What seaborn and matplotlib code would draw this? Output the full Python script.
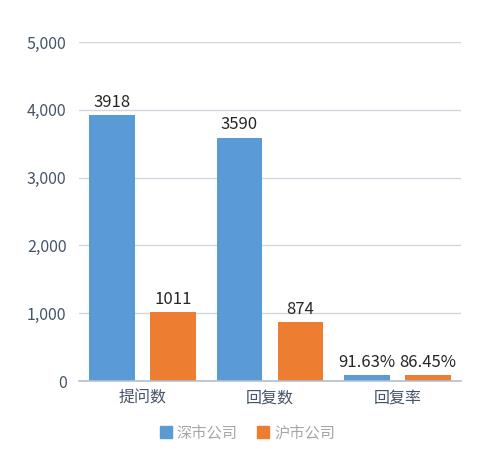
import matplotlib
matplotlib.use("Agg")
import matplotlib.pyplot as plt
import seaborn as sns
import pandas as pd
from matplotlib.lines import Line2D

categories = ["提问数", "回复数", "回复率"]
series = ["深市公司", "沪市公司"]
sz_values = [3918, 3590, 91.63]
sh_values = [1011, 874, 86.45]
sz_labels = ["3918", "3590", "91.63%"]
sh_labels = ["1011", "874", "86.45%"]
yticks = [0, 1000, 2000, 3000, 4000, 5000]
colors = ["#5B9BD5", "#ED7D31"]

df = pd.DataFrame({
    "cat": categories * 2,
    "series": [series[0]] * 3 + [series[1]] * 3,
    "value": sz_values + sh_values,
})

sns.set_theme(style="white")
plt.rcParams['font.family'] = ['Noto Sans CJK SC', 'DejaVu Sans']

fig = plt.figure(figsize=(4.98, 4.58), dpi=100)
ax = fig.add_axes([79/498, 1 - 381/458, (461-79)/498, (381-42)/458])

sns.barplot(data=df, x="cat", y="value", hue="series", palette=colors,
            width=0.96, gap=0.25, ax=ax, legend=False, saturation=1,
            edgecolor="none")

ax.set_ylim(0, 5000)
ax.set_xlim(-0.5, 2.5)
ax.set_yticks(yticks)
ax.set_yticklabels([f"{v:,}" for v in yticks])
ax.yaxis.grid(True, color="#D0D7E1", linewidth=1)
ax.set_axisbelow(True)
for s in ["top", "right", "left"]:
    ax.spines[s].set_visible(False)
ax.spines["bottom"].set_color("#B4C0D0")
ax.spines["bottom"].set_linewidth(1.2)
ax.set_xlabel("")
ax.set_ylabel("")
ax.tick_params(axis="y", length=0, pad=9, labelsize=11.5, labelcolor="#44546A")
ax.tick_params(axis="x", length=0, pad=6, labelsize=11.5, labelcolor="#44546A")

for cont, labs in zip(ax.containers, [sz_labels, sh_labels]):
    ax.bar_label(cont, labels=labs, padding=3, fontsize=12, color="#262626")

handles = [Line2D([0], [0], marker="s", linestyle="none", markersize=9,
                  markerfacecolor=c, markeredgecolor=c) for c in colors]
fig.legend(handles, series, loc="center", bbox_to_anchor=(0.495, 1 - 433/458),
           ncol=2, frameon=False, fontsize=11, labelcolor="#A6A6A6",
           handletextpad=0.2, columnspacing=1.2, handlelength=1.0)

fig.savefig("out.png", dpi=100, facecolor="white")
